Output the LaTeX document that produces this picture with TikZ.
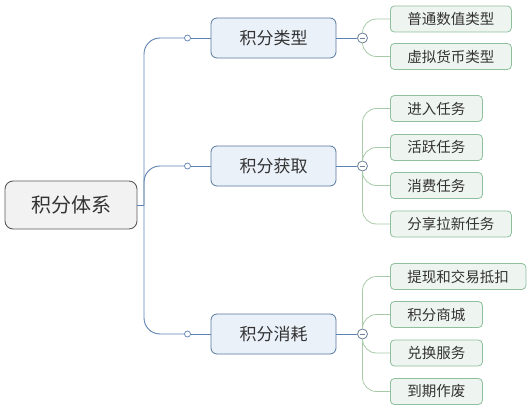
\documentclass[tikz,border=0pt]{standalone}
\usepackage{fontspec}
\setmainfont{Noto Sans CJK SC}
\usetikzlibrary{positioning}

\definecolor{rootline}{HTML}{5A5A5A}
\definecolor{rootfill}{HTML}{F2F2F2}
\definecolor{mainline}{HTML}{56789F}
\definecolor{mainfill}{HTML}{EBF1F9}
\definecolor{branchc}{HTML}{5E82B2}
\definecolor{subline}{HTML}{8FBF9C}
\definecolor{subfill}{HTML}{EEF5F0}
\definecolor{twigc}{HTML}{A8CAA8}
\definecolor{foldc}{HTML}{6B7F99}
\definecolor{textc}{HTML}{333333}

\tikzset{
  rootbox/.style={draw=rootline, fill=rootfill, rounded corners=8pt, line width=0.9pt,
    minimum width=132pt, minimum height=48pt, text=textc, font=\fontsize{20}{20}\selectfont},
  mainbox/.style={draw=mainline, fill=mainfill, rounded corners=6pt, line width=0.8pt,
    minimum width=125pt, minimum height=40pt, text=textc, font=\fontsize{17}{17}\selectfont},
  subbox/.style={draw=subline, fill=subfill, rounded corners=4pt, line width=0.8pt, anchor=west,
    minimum height=26pt, inner xsep=17pt, text=textc, font=\fontsize{14.5}{14.5}\selectfont},
  joint/.style={circle, draw=branchc, fill=white, inner sep=0pt, minimum size=6pt, line width=0.7pt},
  fold/.style={circle, draw=foldc, fill=white, inner sep=0pt, minimum size=10pt, line width=0.8pt,
    path picture={\draw[foldc, line width=0.9pt]
      ([xshift=-2.5pt]path picture bounding box.center) -- ([xshift=2.5pt]path picture bounding box.center);}},
  trunk/.style={draw=branchc, line width=0.9pt, rounded corners=16pt},
  twig/.style={draw=twigc, line width=0.8pt, rounded corners=14pt},
}

\begin{document}
\begin{tikzpicture}[x=1pt, y=-1pt]
  \useasboundingbox (0,0) rectangle (530,409);

  % Root
  \node[rootbox] (tixi) at (71,205) {积分体系};
  \coordinate (fork) at (144,205);

  % Main topics
  \node[mainbox] (leixing) at (273.5,38)  {积分类型};
  \node[mainbox] (huoqu)   at (273.5,166) {积分获取};
  \node[mainbox] (xiaohao) at (273.5,334) {积分消耗};

  % Joints and fold marks
  \foreach \b/\y in {leixing/38, huoqu/166, xiaohao/334} {
    \node[joint] (j-\b) at (187.5,\y) {};
    \node[fold]  (f-\b) at (362.5,\y) {};
  }

  % Subtopics
  \node[subbox] (lx1) at (390,19)    {普通数值类型};
  \node[subbox] (lx2) at (390,56.5)  {虚拟货币类型};

  \node[subbox] (hq1) at (390,108.5) {进入任务};
  \node[subbox] (hq2) at (390,147.5) {活跃任务};
  \node[subbox] (hq3) at (390,185.5) {消费任务};
  \node[subbox] (hq4) at (390,224)   {分享拉新任务};

  \node[subbox] (xh1) at (390,276.5) {提现和交易抵扣};
  \node[subbox] (xh2) at (390,314.5) {积分商城};
  \node[subbox] (xh3) at (390,353)   {兑换服务};
  \node[subbox] (xh4) at (390,391.5) {到期作废};

  % Connections
  \draw[trunk] (tixi.east) -- (fork);
  \foreach \b in {leixing, huoqu, xiaohao} {
    \draw[trunk] (fork) |- (j-\b);
    \draw[branchc, line width=0.9pt] (j-\b) -- (\b.west);
    \draw[branchc, line width=0.9pt] (\b.east) -- (f-\b);
  }
  \foreach \s in {lx1, lx2}           \draw[twig] (f-leixing) |- (\s.west);
  \foreach \s in {hq1, hq2, hq3, hq4} \draw[twig] (f-huoqu)   |- (\s.west);
  \foreach \s in {xh1, xh2, xh3, xh4} \draw[twig] (f-xiaohao) |- (\s.west);
\end{tikzpicture}
\end{document}
